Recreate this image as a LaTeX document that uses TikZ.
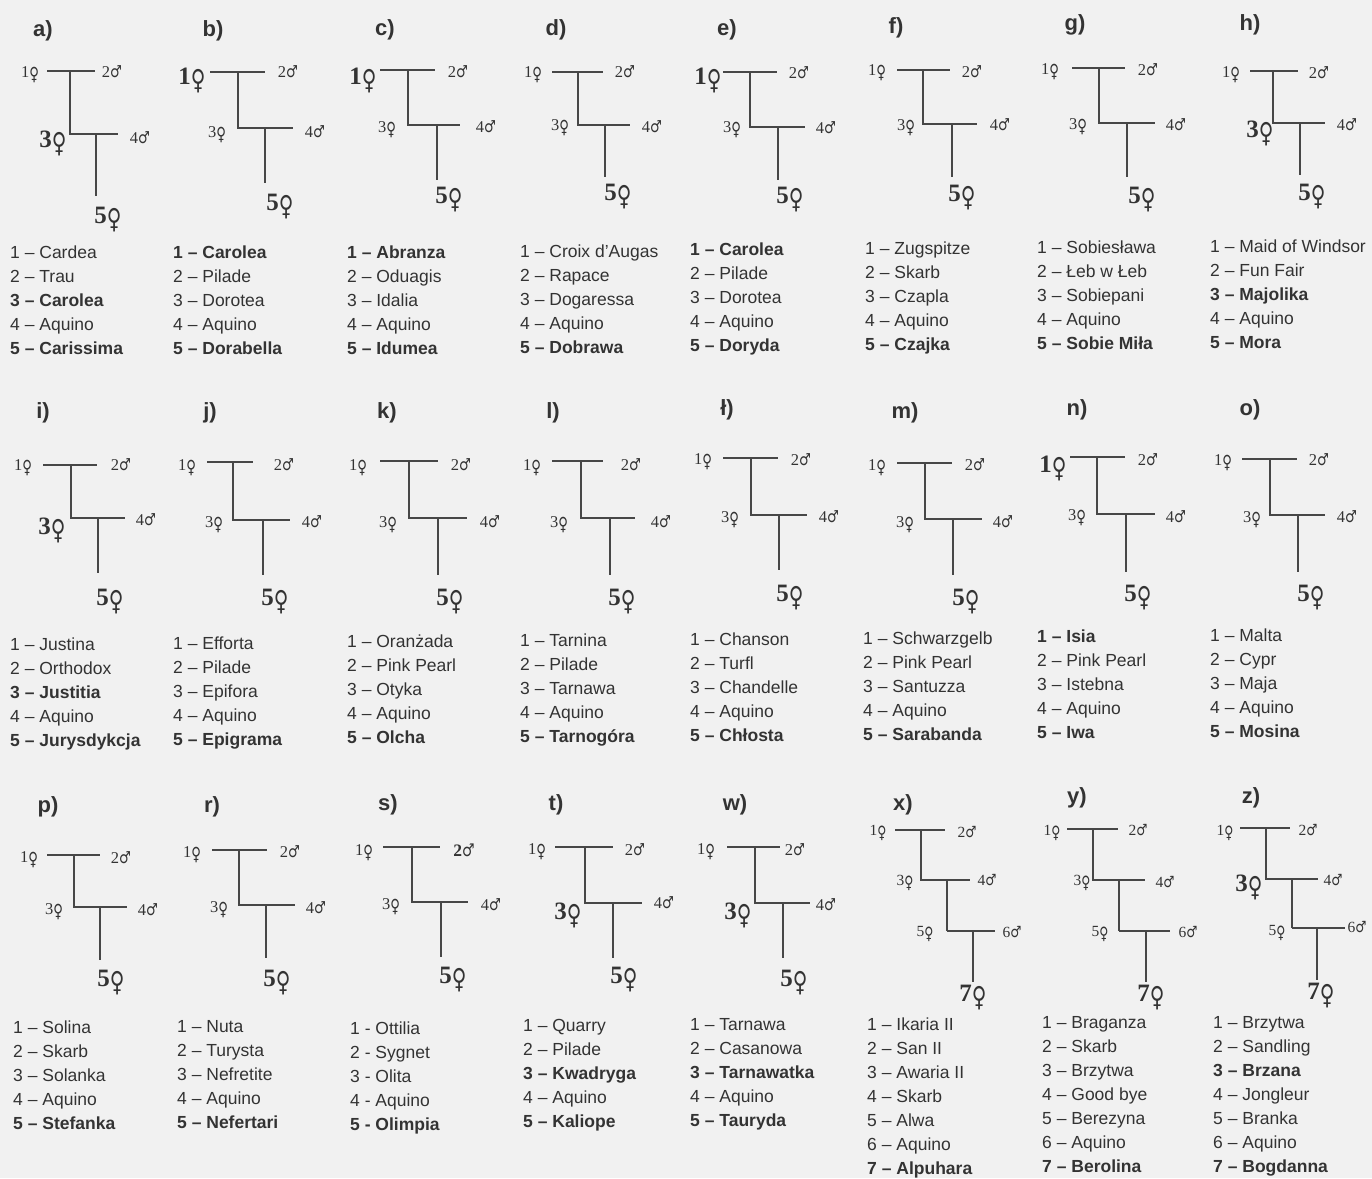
\documentclass[tikz,border=0pt]{standalone}
\usepackage{fontspec}
\usepackage{graphicx}
\setmainfont{Liberation Serif}
\newfontfamily\lsans{Liberation Sans}
\newfontfamily\symf{DejaVu Sans}
\definecolor{ink}{HTML}{333333}
\definecolor{paper}{HTML}{F1F1F1}
\newcommand\femsym{\raisebox{-0.2em}{\symf\scalebox{0.8}[1.1]{♀}}}
\newcommand\malsym{{\symf\scalebox{0.8}[1.0]{♂}}}
\newcommand\pedtree[9]{%
  \coordinate (#1-tl) at (#3,#2);
  \coordinate (#1-tr) at (#4,#2);
  \coordinate (#1-tv) at (#5,#2);
  \coordinate (#1-ml) at (#5,#6);
  \coordinate (#1-mr) at (#7,#6);
  \coordinate (#1-mv) at (#8,#6);
  \coordinate (#1-bv) at (#8,#9);
  \draw[tl] (#1-tl) -- (#1-tr);
  \draw[tl] (#1-tv) -- (#1-ml) -- (#1-mr);
  \draw[tl] (#1-mv) -- (#1-bv);
}
\newcommand\pedext[5]{%
  \coordinate (#1-lr) at (#3,#2);
  \coordinate (#1-lv) at (#4,#2);
  \coordinate (#1-lb) at (#4,#5);
  \draw[tl] (#1-bv) -- (#1-lr);
  \draw[tl] (#1-lv) -- (#1-lb);
}
\newcommand\pedleg[4]{\node[leg] (#1) at (#2,#3-7) {#4};}
\tikzset{
  tl/.style={draw=ink!90, line width=1.1pt},
  sm/.style={font=\fontsize{16.5}{16.5}\selectfont, text=ink, inner sep=0pt},
  sx/.style={font=\fontsize{15.5}{15.5}\selectfont, text=ink, inner sep=0pt},
  big/.style={font=\fontsize{25}{25}\selectfont\bfseries, text=ink, inner sep=0pt},
  plab/.style={font=\lsans\bfseries\fontsize{22}{22}\selectfont, text=ink, inner sep=0pt},
  leg/.style={font=\lsans\fontsize{17.5}{24}\selectfont, text=ink, inner sep=0pt, anchor=north west, align=left},
}
\begin{document}
\begin{tikzpicture}[x=1pt,y=-1pt]
\useasboundingbox (0,0) rectangle (1372,1178);
\fill[paper] (0,0) rectangle (1372,1178);

% ---------------- row 1 ----------------
% a
\node[plab] (a-l) at (43,31) {a)};
\pedtree{a}{71}{47}{95}{70}{134}{118}{96}{196}
\node[sm] (a-1) at (30,75) {1\femsym};
\node[sm] (a-2) at (112,72) {2\malsym};
\node[big] (a-3) at (53,143) {3\femsym};
\node[sm] (a-4) at (140,138) {4\malsym};
\node[big] (a-5) at (108,220) {5\femsym};
\pedleg{a-leg}{10}{253}{1 – Cardea\\2 – Trau\\\textbf{3 – Carolea}\\4 – Aquino\\\textbf{5 – Carissima}}
% b
\node[plab] (b-l) at (213,31) {b)};
\pedtree{b}{72}{210}{265}{238}{128}{293}{265}{183}
\node[big] (b-1) at (192,80) {1\femsym};
\node[sm] (b-2) at (288,72) {2\malsym};
\node[sm] (b-3) at (217,135) {3\femsym};
\node[sm] (b-4) at (315,132) {4\malsym};
\node[big] (b-5) at (280,207) {5\femsym};
\pedleg{b-leg}{173}{253}{\textbf{1 – Carolea}\\2 – Pilade\\3 – Dorotea\\4 – Aquino\\\textbf{5 – Dorabella}}
% c
\node[plab] (c-l) at (385,30) {c)};
\pedtree{c}{70}{380}{435}{408}{125}{460}{437}{180}
\node[big] (c-1) at (363,80) {1\femsym};
\node[sm] (c-2) at (458,72) {2\malsym};
\node[sm] (c-3) at (387,130) {3\femsym};
\node[sm] (c-4) at (486,127) {4\malsym};
\node[big] (c-5) at (449,200) {5\femsym};
\pedleg{c-leg}{347}{253}{\textbf{1 – Abranza}\\2 – Oduagis\\3 – Idalia\\4 – Aquino\\\textbf{5 – Idumea}}
% d
\node[plab] (d-l) at (556,30) {d)};
\pedtree{d}{72}{552}{603}{578}{125}{630}{605}{177}
\node[sm] (d-1) at (533,75) {1\femsym};
\node[sm] (d-2) at (625,72) {2\malsym};
\node[sm] (d-3) at (560,128) {3\femsym};
\node[sm] (d-4) at (652,127) {4\malsym};
\node[big] (d-5) at (618,197) {5\femsym};
\pedleg{d-leg}{520}{252}{1 – Croix d’Augas\\2 – Rapace\\3 – Dogaressa\\4 – Aquino\\\textbf{5 – Dobrawa}}
% e
\node[plab] (e-l) at (727,30) {e)};
\pedtree{e}{72}{723}{777}{750}{127}{805}{778}{180}
\node[big] (e-1) at (708,80) {1\femsym};
\node[sm] (e-2) at (799,73) {2\malsym};
\node[sm] (e-3) at (732,130) {3\femsym};
\node[sm] (e-4) at (826,128) {4\malsym};
\node[big] (e-5) at (790,200) {5\femsym};
\pedleg{e-leg}{690}{250}{\textbf{1 – Carolea}\\2 – Pilade\\3 – Dorotea\\4 – Aquino\\\textbf{5 – Doryda}}
% f
\node[plab] (f-l) at (896,28) {f)};
\pedtree{f}{70}{897}{950}{923}{124}{977}{952}{177}
\node[sm] (f-1) at (877,73) {1\femsym};
\node[sm] (f-2) at (972,72) {2\malsym};
\node[sm] (f-3) at (906,128) {3\femsym};
\node[sm] (f-4) at (1000,125) {4\malsym};
\node[big] (f-5) at (962,198) {5\femsym};
\pedleg{f-leg}{865}{249}{1 – Zugspitze\\2 – Skarb\\3 – Czapla\\4 – Aquino\\\textbf{5 – Czajka}}
% g
\node[plab] (g-l) at (1075,25) {g)};
\pedtree{g}{68}{1072}{1125}{1099}{123}{1155}{1127}{177}
\node[sm] (g-1) at (1050,72) {1\femsym};
\node[sm] (g-2) at (1148,70) {2\malsym};
\node[sm] (g-3) at (1078,127) {3\femsym};
\node[sm] (g-4) at (1176,125) {4\malsym};
\node[big] (g-5) at (1142,200) {5\femsym};
\pedleg{g-leg}{1037}{248}{1 – Sobiesława\\2 – Łeb w Łeb\\3 – Sobiepani\\4 – Aquino\\\textbf{5 – Sobie Miła}}
% h
\node[plab] (h-l) at (1250,25) {h)};
\pedtree{h}{71}{1250}{1298}{1273}{123}{1325}{1300}{175}
\node[sm] (h-1) at (1231,75) {1\femsym};
\node[sm] (h-2) at (1319,73) {2\malsym};
\node[big] (h-3) at (1260,133) {3\femsym};
\node[sm] (h-4) at (1347,125) {4\malsym};
\node[big] (h-5) at (1312,197) {5\femsym};
\pedleg{h-leg}{1210}{247}{1 – Maid of Windsor\\2 – Fun Fair\\\textbf{3 – Majolika}\\4 – Aquino\\\textbf{5 – Mora}}

% ---------------- row 2 ----------------
% i
\node[plab] (i-l) at (43,413) {i)};
\pedtree{i}{465}{43}{97}{71}{518}{125}{98}{573}
\node[sm] (i-1) at (23,468) {1\femsym};
\node[sm] (i-2) at (121,465) {2\malsym};
\node[big] (i-3) at (52,530) {3\femsym};
\node[sm] (i-4) at (146,520) {4\malsym};
\node[big] (i-5) at (110,602) {5\femsym};
\pedleg{i-leg}{10}{645}{1 – Justina\\2 – Orthodox\\\textbf{3 – Justitia}\\4 – Aquino\\\textbf{5 – Jurysdykcja}}
% j
\node[plab] (j-l) at (210,413) {j)};
\pedtree{j}{462}{207}{253}{233}{520}{290}{263}{575}
\node[sm] (j-1) at (187,468) {1\femsym};
\node[sm] (j-2) at (284,465) {2\malsym};
\node[sm] (j-3) at (214,525) {3\femsym};
\node[sm] (j-4) at (312,522) {4\malsym};
\node[big] (j-5) at (275,602) {5\femsym};
\pedleg{j-leg}{173}{644}{1 – Efforta\\2 – Pilade\\3 – Epifora\\4 – Aquino\\\textbf{5 – Epigrama}}
% k
\node[plab] (k-l) at (387,413) {k)};
\pedtree{k}{461}{380}{438}{409}{518}{467}{438}{575}
\node[sm] (k-1) at (358,468) {1\femsym};
\node[sm] (k-2) at (461,465) {2\malsym};
\node[sm] (k-3) at (388,525) {3\femsym};
\node[sm] (k-4) at (490,522) {4\malsym};
\node[big] (k-5) at (450,602) {5\femsym};
\pedleg{k-leg}{347}{642}{1 – Oranżada\\2 – Pink Pearl\\3 – Otyka\\4 – Aquino\\\textbf{5 – Olcha}}
% l
\node[plab] (l-l) at (553,413) {l)};
\pedtree{l}{461}{552}{603}{581}{518}{635}{610}{575}
\node[sm] (l-1) at (532,468) {1\femsym};
\node[sm] (l-2) at (631,465) {2\malsym};
\node[sm] (l-3) at (559,525) {3\femsym};
\node[sm] (l-4) at (661,522) {4\malsym};
\node[big] (l-5) at (622,602) {5\femsym};
\pedleg{l-leg}{520}{641}{1 – Tarnina\\2 – Pilade\\3 – Tarnawa\\4 – Aquino\\\textbf{5 – Tarnogóra}}
% ł
\node[plab] (lx-l) at (727,410) {ł)};
\pedtree{lx}{458}{723}{778}{751}{515}{807}{779}{570}
\node[sm] (lx-1) at (703,462) {1\femsym};
\node[sm] (lx-2) at (801,460) {2\malsym};
\node[sm] (lx-3) at (730,520) {3\femsym};
\node[sm] (lx-4) at (829,517) {4\malsym};
\node[big] (lx-5) at (790,598) {5\femsym};
\pedleg{lx-leg}{690}{640}{1 – Chanson\\2 – Turfl\\3 – Chandelle\\4 – Aquino\\\textbf{5 – Chłosta}}
% m
\node[plab] (m-l) at (905,413) {m)};
\pedtree{m}{463}{897}{952}{925}{519}{982}{953}{575}
\node[sm] (m-1) at (877,468) {1\femsym};
\node[sm] (m-2) at (975,465) {2\malsym};
\node[sm] (m-3) at (905,525) {3\femsym};
\node[sm] (m-4) at (1003,522) {4\malsym};
\node[big] (m-5) at (966,602) {5\femsym};
\pedleg{m-leg}{863}{639}{1 – Schwarzgelb\\2 – Pink Pearl\\3 – Santuzza\\4 – Aquino\\\textbf{5 – Sarabanda}}
% n
\node[plab] (n-l) at (1077,410) {n)};
\pedtree{n}{457}{1070}{1125}{1097}{514}{1155}{1126}{572}
\node[big] (n-1) at (1053,468) {1\femsym};
\node[sm] (n-2) at (1148,460) {2\malsym};
\node[sm] (n-3) at (1077,518) {3\femsym};
\node[sm] (n-4) at (1176,517) {4\malsym};
\node[big] (n-5) at (1138,598) {5\femsym};
\pedleg{n-leg}{1037}{637}{\textbf{1 – Isia}\\2 – Pink Pearl\\3 – Istebna\\4 – Aquino\\\textbf{5 – Iwa}}
% o
\node[plab] (o-l) at (1250,410) {o)};
\pedtree{o}{459}{1242}{1297}{1270}{515}{1325}{1298}{572}
\node[sm] (o-1) at (1223,463) {1\femsym};
\node[sm] (o-2) at (1319,460) {2\malsym};
\node[sm] (o-3) at (1252,520) {3\femsym};
\node[sm] (o-4) at (1347,517) {4\malsym};
\node[big] (o-5) at (1311,598) {5\femsym};
\pedleg{o-leg}{1210}{636}{1 – Malta\\2 – Cypr\\3 – Maja\\4 – Aquino\\\textbf{5 – Mosina}}

% ---------------- row 3 ----------------
% p
\node[plab] (p-l) at (48,807) {p)};
\pedtree{p}{855}{47}{100}{74}{907}{127}{100}{960}
\node[sm] (p-1) at (29,860) {1\femsym};
\node[sm] (p-2) at (121,858) {2\malsym};
\node[sm] (p-3) at (54,912) {3\femsym};
\node[sm] (p-4) at (148,910) {4\malsym};
\node[big] (p-5) at (111,983) {5\femsym};
\pedleg{p-leg}{13}{1028}{1 – Solina\\2 – Skarb\\3 – Solanka\\4 – Aquino\\\textbf{5 – Stefanka}}
% r
\node[plab] (r-l) at (212,807) {r)};
\pedtree{r}{850}{212}{267}{239}{905}{295}{266}{958}
\node[sm] (r-1) at (192,855) {1\femsym};
\node[sm] (r-2) at (290,852) {2\malsym};
\node[sm] (r-3) at (219,910) {3\femsym};
\node[sm] (r-4) at (316,908) {4\malsym};
\node[big] (r-5) at (277,983) {5\femsym};
\pedleg{r-leg}{177}{1027}{1 – Nuta\\2 – Turysta\\3 – Nefretite\\4 – Aquino\\\textbf{5 – Nefertari}}
% s
\node[plab] (s-l) at (388,805) {s)};
\pedtree{s}{847}{383}{440}{412}{902}{468}{441}{957}
\node[sm] (s-1) at (364,853) {1\femsym};
\node[sm, font=\fontsize{17.5}{17.5}\selectfont\bfseries] (s-2) at (464,850) {2\malsym};
\node[sm] (s-3) at (391,907) {3\femsym};
\node[sm] (s-4) at (491,905) {4\malsym};
\node[big] (s-5) at (453,980) {5\femsym};
\pedleg{s-leg}{350}{1029}{1 - Ottilia\\2 - Sygnet\\3 - Olita\\4 - Aquino\\\textbf{5 - Olimpia}}
% t
\node[plab] (t-l) at (556,805) {t)};
\pedtree{t}{847}{555}{613}{585}{903}{642}{613}{958}
\node[sm] (t-1) at (537,852) {1\femsym};
\node[sm] (t-2) at (635,850) {2\malsym};
\node[big] (t-3) at (568,915) {3\femsym};
\node[sm] (t-4) at (664,903) {4\malsym};
\node[big] (t-5) at (624,980) {5\femsym};
\pedleg{t-leg}{523}{1026}{1 – Quarry\\2 – Pilade\\\textbf{3 – Kwadryga}\\4 – Aquino\\\textbf{5 – Kaliope}}
% w
\node[plab] (w-l) at (735,805) {w)};
\pedtree{w}{847}{727}{780}{755}{903}{810}{783}{958}
\node[sm] (w-1) at (706,852) {1\femsym};
\node[sm] (w-2) at (795,850) {2\malsym};
\node[big] (w-3) at (738,915) {3\femsym};
\node[sm] (w-4) at (826,905) {4\malsym};
\node[big] (w-5) at (794,983) {5\femsym};
\pedleg{w-leg}{690}{1025}{1 – Tarnawa\\2 – Casanowa\\\textbf{3 – Tarnawatka}\\4 – Aquino\\\textbf{5 – Tauryda}}
% x
\node[plab] (x-l) at (903,805) {x)};
\pedtree{x}{830}{895}{945}{921}{880}{970}{947}{931}
\pedext{x}{931}{995}{973}{982}
\node[sx] (x-1) at (878,833) {1\femsym};
\node[sx] (x-2) at (967,832) {2\malsym};
\node[sx] (x-3) at (905,883) {3\femsym};
\node[sx] (x-4) at (987,880) {4\malsym};
\node[sx] (x-5) at (925,934) {5\femsym};
\node[sx] (x-6) at (1012,932) {6\malsym};
\node[big] (x-7) at (973,998) {7\femsym};
\pedleg{x-leg}{867}{1025}{1 – Ikaria II\\2 – San II\\3 – Awaria II\\4 – Skarb\\5 – Alwa\\6 – Aquino\\\textbf{7 – Alpuhara}}
% y
\node[plab] (y-l) at (1077,798) {y)};
\pedtree{y}{829}{1067}{1118}{1093}{880}{1145}{1119}{931}
\pedext{y}{931}{1170}{1146}{982}
\node[sx] (y-1) at (1052,833) {1\femsym};
\node[sx] (y-2) at (1138,830) {2\malsym};
\node[sx] (y-3) at (1082,883) {3\femsym};
\node[sx] (y-4) at (1165,882) {4\malsym};
\node[sx] (y-5) at (1100,934) {5\femsym};
\node[sx] (y-6) at (1188,932) {6\malsym};
\node[big] (y-7) at (1151,998) {7\femsym};
\pedleg{y-leg}{1042}{1023}{1 – Braganza\\2 – Skarb\\3 – Brzytwa\\4 – Good bye\\5 – Berezyna\\6 – Aquino\\\textbf{7 – Berolina}}
% z
\node[plab] (z-l) at (1251,798) {z)};
\pedtree{z}{828}{1240}{1290}{1266}{879}{1318}{1292}{928}
\pedext{z}{928}{1345}{1317}{980}
\node[sx] (z-1) at (1225,833) {1\femsym};
\node[sx] (z-2) at (1308,830) {2\malsym};
\node[big] (z-3) at (1249,887) {3\femsym};
\node[sx] (z-4) at (1333,880) {4\malsym};
\node[sx] (z-5) at (1277,933) {5\femsym};
\node[sx] (z-6) at (1357,927) {6\malsym};
\node[big] (z-7) at (1321,996) {7\femsym};
\pedleg{z-leg}{1213}{1023}{1 – Brzytwa\\2 – Sandling\\\textbf{3 – Brzana}\\4 – Jongleur\\5 – Branka\\6 – Aquino\\\textbf{7 – Bogdanna}}
\end{tikzpicture}
\end{document}
